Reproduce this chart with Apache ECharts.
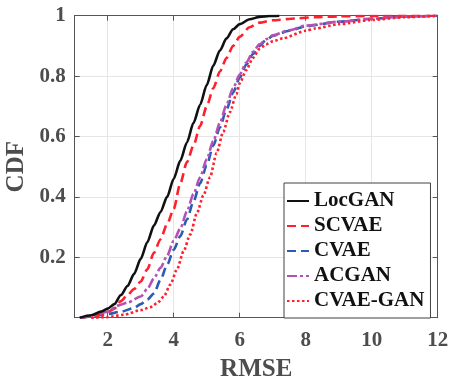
<!DOCTYPE html>
<html>
<head>
<meta charset="utf-8">
<script src="https://cdn.jsdelivr.net/npm/echarts@6/dist/echarts.min.js"></script>
<style>
html,body{margin:0;padding:0;background:#fff;}
#c{width:449px;height:381px;}
</style>
</head>
<body>
<div id="c"></div>
<script>
// ---- data (RMSE, CDF) ----
const seriesNames = ['LocGAN', 'SCVAE', 'CVAE', 'ACGAN', 'CVAE-GAN'];

const locganX = [1.15, 1.5, 1.8, 2.0, 2.2, 2.4, 2.6, 2.8, 3.0, 3.2, 3.4, 3.6, 3.8, 4.0, 4.2, 4.4, 4.6, 4.8, 5.0, 5.2, 5.4, 5.6, 5.8, 6.0, 6.3, 6.6, 6.9, 7.2];
const locganY = [0, 0.008, 0.02, 0.03, 0.045, 0.075, 0.105, 0.145, 0.195, 0.25, 0.305, 0.35, 0.4, 0.46, 0.52, 0.58, 0.645, 0.705, 0.77, 0.835, 0.885, 0.925, 0.955, 0.972, 0.988, 0.996, 0.999, 1];

const scvaeX = [1.2, 1.5, 1.8, 2.0, 2.2, 2.4, 2.6, 2.8, 3.0, 3.2, 3.4, 3.6, 3.8, 4.0, 4.2, 4.4, 4.6, 4.8, 5.0, 5.2, 5.4, 5.6, 5.8, 6.0, 6.3, 6.6, 7.0, 7.7, 8.3, 9.0, 10.0, 12.0];
const scvaeY = [0, 0.005, 0.01, 0.018, 0.03, 0.055, 0.075, 0.095, 0.12, 0.16, 0.215, 0.26, 0.31, 0.36, 0.445, 0.515, 0.57, 0.635, 0.70, 0.76, 0.815, 0.86, 0.9, 0.93, 0.962, 0.977, 0.985, 0.991, 0.995, 0.998, 0.999, 1];

const cvaeX = [1.2, 1.5, 2.0, 2.4, 2.8, 3.0, 3.2, 3.4, 3.6, 3.8, 4.0, 4.2, 4.4, 4.6, 4.8, 5.0, 5.2, 5.4, 5.6, 5.8, 6.0, 6.2, 6.4, 6.6, 6.8, 7.0, 7.5, 8.0, 9.0, 10.0, 11.0, 12.0];
const cvaeY = [0, 0.004, 0.012, 0.02, 0.032, 0.045, 0.06, 0.08, 0.125, 0.175, 0.225, 0.27, 0.325, 0.385, 0.445, 0.505, 0.57, 0.63, 0.69, 0.745, 0.795, 0.838, 0.873, 0.9, 0.92, 0.933, 0.95, 0.965, 0.98, 0.99, 0.997, 1];

const acganX = [1.2, 1.5, 2.0, 2.3, 2.6, 3.0, 3.2, 3.4, 3.6, 3.8, 4.0, 4.2, 4.4, 4.6, 4.8, 5.0, 5.2, 5.4, 5.6, 5.8, 6.0, 6.2, 6.4, 6.6, 6.8, 7.0, 7.5, 8.0, 9.0, 10.0, 11.0, 12.0];
const acganY = [0, 0.005, 0.02, 0.04, 0.05, 0.07, 0.095, 0.13, 0.165, 0.205, 0.255, 0.295, 0.352, 0.41, 0.465, 0.525, 0.585, 0.645, 0.705, 0.76, 0.805, 0.845, 0.88, 0.905, 0.922, 0.935, 0.952, 0.967, 0.98, 0.99, 0.997, 1];

const cvaeganX = [1.5, 2.0, 2.5, 3.0, 3.3, 3.5, 3.7, 3.9, 4.1, 4.3, 4.5, 4.7, 4.9, 5.1, 5.3, 5.5, 5.7, 5.9, 6.0, 6.2, 6.4, 6.6, 6.8, 7.0, 7.3, 8.0, 8.3, 9.0, 10.0, 11.0, 12.0];
const cvaeganY = [0, 0.002, 0.01, 0.025, 0.035, 0.048, 0.07, 0.11, 0.16, 0.22, 0.275, 0.345, 0.405, 0.465, 0.545, 0.615, 0.68, 0.74, 0.776, 0.82, 0.86, 0.89, 0.905, 0.915, 0.925, 0.95, 0.958, 0.972, 0.986, 0.995, 1];

const xTicks = [2, 4, 6, 8, 10, 12];
const yTicks = [0.2, 0.4, 0.6, 0.8, 1];

function pairs(xs, ys) { return xs.map((x, i) => [x, ys[i]]); }

const FONT = '"Liberation Serif", "Times New Roman", serif';
const AXIS_COLOR = '#555555';
const LABEL_COLOR = '#4d4d4d';

const chart = echarts.init(document.getElementById('c'), null, { renderer: 'canvas' });

function lineSeries(name, xs, ys, color, type, width, z) {
  return {
    name: name,
    type: 'line',
    data: pairs(xs, ys),
    showSymbol: false,
    symbol: 'none',
    smooth: 0.25,
    smoothMonotone: 'x',
    z: z,
    lineStyle: { color: color, width: width, type: type, cap: 'butt' },
    itemStyle: { color: color },
    emphasis: { disabled: true },
    animation: false
  };
}

const option = {
  animation: false,
  backgroundColor: '#ffffff',
  grid: { left: 74.7, right: 11.3, top: 15.7, bottom: 63.3, containLabel: false, outerBoundsMode: 'none' },
  xAxis: [
    {
      type: 'value', min: 1, max: 12,
      name: 'RMSE', nameLocation: 'middle', nameGap: 39,
      nameTextStyle: { fontFamily: FONT, fontWeight: 'bold', fontSize: 25, color: LABEL_COLOR },
      axisLine: { show: true, lineStyle: { color: AXIS_COLOR, width: 1 } },
      axisTick: { show: true, inside: true, length: 5, customValues: xTicks, lineStyle: { color: AXIS_COLOR } },
      axisLabel: { customValues: xTicks, margin: 12, fontFamily: FONT, fontWeight: 'bold', fontSize: 21, color: LABEL_COLOR },
      splitLine: { show: true, lineStyle: { color: '#e6e6e6', width: 1 } }
    },
    {
      type: 'value', min: 1, max: 12, position: 'top',
      axisLine: { show: true, onZero: false, lineStyle: { color: AXIS_COLOR, width: 1 } },
      axisTick: { show: true, inside: true, length: 5, customValues: xTicks, lineStyle: { color: AXIS_COLOR } },
      axisLabel: { show: false },
      splitLine: { show: false }
    }
  ],
  yAxis: [
    {
      type: 'value', min: 0, max: 1, interval: 0.2,
      name: 'CDF', nameLocation: 'middle', nameGap: 44,
      nameTextStyle: { fontFamily: FONT, fontWeight: 'bold', fontSize: 25, color: LABEL_COLOR },
      axisLine: { show: true, lineStyle: { color: AXIS_COLOR, width: 1 } },
      axisTick: { show: true, inside: true, length: 5, lineStyle: { color: AXIS_COLOR } },
      axisLabel: {
        margin: 9, fontFamily: FONT, fontWeight: 'bold', fontSize: 21, color: LABEL_COLOR,
        formatter: function (v) { return yTicks.some(t => Math.abs(t - v) < 1e-9) ? String(+v.toFixed(1)) : ''; }
      },
      splitLine: { show: true, lineStyle: { color: '#e6e6e6', width: 1 } }
    },
    {
      type: 'value', min: 0, max: 1, interval: 0.2, position: 'right',
      axisLine: { show: true, onZero: false, lineStyle: { color: AXIS_COLOR, width: 1 } },
      axisTick: { show: true, inside: true, length: 5, lineStyle: { color: AXIS_COLOR } },
      axisLabel: { show: false },
      splitLine: { show: false }
    }
  ],
  legend: {
    left: 284, top: 183,
    orient: 'vertical',
    backgroundColor: '#ffffff',
    borderColor: '#404040', borderWidth: 1,
    padding: [7, 6, 6, 2],
    itemWidth: 22, itemHeight: 14, itemGap: 3, itemTextGap: 2,
    itemStyle: { opacity: 0, borderWidth: 0 },
    textStyle: { fontFamily: FONT, fontWeight: 'bold', fontSize: 21, color: '#111111', lineHeight: 22 },
    data: seriesNames
  },
  series: [
    lineSeries(seriesNames[0], locganX, locganY, '#111111', 'solid', 2.6, 5),
    lineSeries(seriesNames[1], scvaeX, scvaeY, '#ff1f2d', [9, 5], 2.6, 4),
    lineSeries(seriesNames[2], cvaeX, cvaeY, '#2a5cb4', [9, 5], 2.6, 3),
    lineSeries(seriesNames[3], acganX, acganY, '#b452b4', [10, 3, 3, 3], 2.6, 4),
    lineSeries(seriesNames[4], cvaeganX, cvaeganY, '#ff1f2d', [2.5, 2.5], 2.6, 6)
  ]
};
chart.setOption(option);
</script>
</body>
</html>
